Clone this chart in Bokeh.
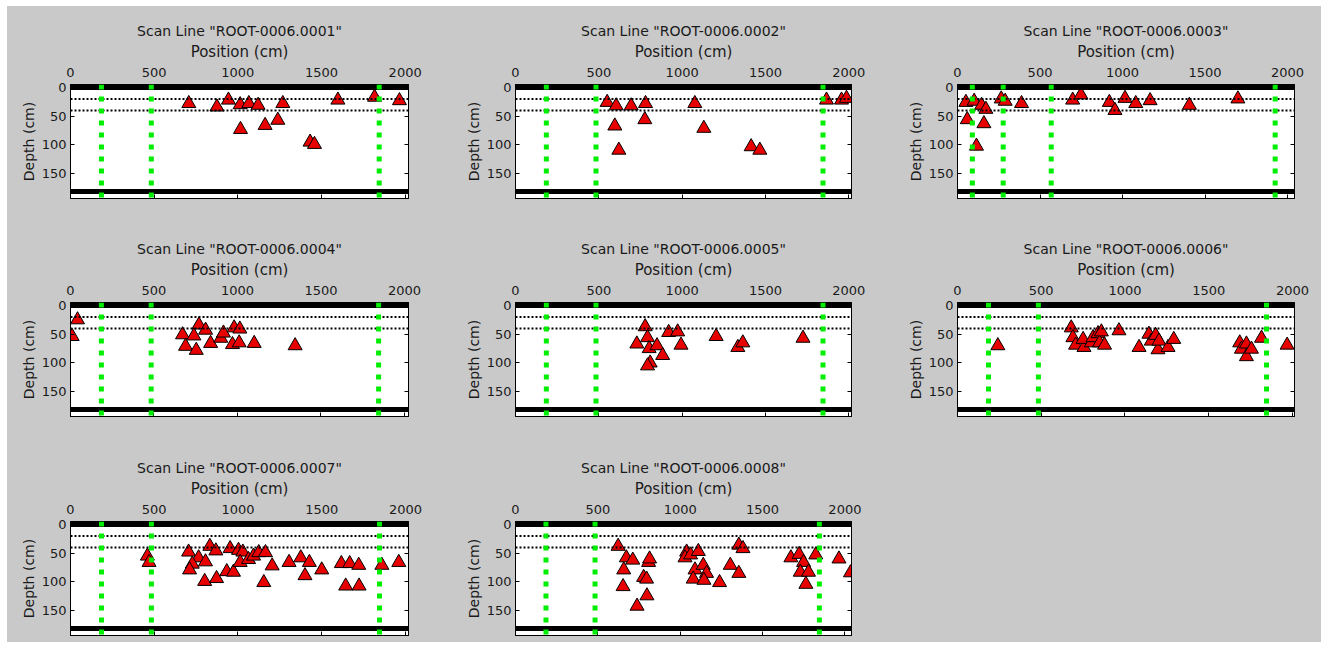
from bokeh.plotting import figure
from bokeh.models import Range1d, LinearAxis, FixedTicker, Span, Spacer
from bokeh.layouts import row, column
from bokeh.embed import file_html
from bokeh.resources import INLINE

# ---------------- data ----------------
scan_names = ["ROOT-0006.0001", "ROOT-0006.0002", "ROOT-0006.0003", "ROOT-0006.0004",
              "ROOT-0006.0005", "ROOT-0006.0006", "ROOT-0006.0007", "ROOT-0006.0008"]
x_max = [2020, 2016, 2042, 2024, 2016, 2012, 2018, 2040]
x_ticks = [0, 500, 1000, 1500, 2000]
y_ticks = [0, 50, 100, 150]
boundary_depths = [0, 181]
layer_depths = [20, 40]

green_lines = [
    [185, 483, 1845],
    [185, 483, 1845],
    [90, 277, 568, 1925],
    [185, 483, 1845],
    [185, 483, 1845],
    [185, 483, 1845],
    [185, 483, 1845],
    [185, 483, 1845],
]

pos1 = [707, 875, 944, 1014, 1066, 1121, 1016, 1163, 1239, 1269, 1432, 1458, 1598, 1817, 1966]
dep1 = [28, 34, 22, 30, 28, 31, 73, 66, 57, 28, 95, 99, 22, 17, 23]

pos2 = [550, 604, 694, 780, 776, 596, 620, 1076, 1130, 1414, 1466, 1866, 1956, 1986]
dep2 = [26, 32, 32, 28, 56, 67, 109, 28, 71, 103, 109, 22, 22, 19]

pos3 = [51, 101, 146, 172, 59, 160, 115, 265, 289, 388, 698, 748, 920, 954, 1015, 1080, 1167, 1405, 1699]
dep3 = [26, 24, 31, 38, 56, 63, 102, 20, 24, 28, 22, 13, 26, 40, 19, 28, 23, 31, 20]

pos4 = [42, 10, 671, 769, 809, 739, 689, 753, 839, 900, 916, 970, 1010, 980, 1014, 1100, 1345]
dep4 = [25, 54, 51, 34, 43, 53, 71, 78, 66, 57, 48, 68, 65, 39, 41, 66, 70]

pos5 = [778, 792, 728, 802, 849, 883, 808, 792, 919, 973, 993, 1204, 1334, 1364, 1725]
dep5 = [37, 56, 67, 75, 70, 87, 100, 105, 47, 46, 69, 54, 73, 65, 57]

pos6 = [241, 679, 689, 705, 755, 750, 799, 809, 839, 848, 859, 878, 964, 1084, 1143, 1157, 1183,
        1197, 1203, 1257, 1291, 1685, 1695, 1725, 1725, 1755, 1815, 1968]
dep6 = [70, 39, 56, 69, 73, 59, 65, 56, 49, 65, 46, 69, 44, 73, 50, 62, 52,
        77, 62, 73, 59, 65, 76, 67, 89, 76, 57, 69]

pos7 = [459, 469, 705, 765, 727, 711, 806, 801, 832, 868, 872, 933, 953, 973, 1003, 1029, 1013,
        1063, 1093, 1124, 1164, 1154, 1204, 1305, 1375, 1426, 1400, 1500, 1617, 1667, 1721, 1643,
        1723, 1859, 1960]
dep7 = [55, 66, 48, 58, 69, 79, 65, 99, 38, 46, 94, 82, 42, 83, 45, 48, 66,
        61, 55, 49, 49, 101, 72, 66, 58, 66, 89, 79, 68, 68, 71, 107,
        107, 71, 66]

pos8 = [623, 673, 712, 657, 653, 738, 798, 778, 808, 814, 796, 1039, 1029, 1063, 1110, 1090, 1140,
        1160, 1079, 1144, 1239, 1304, 1356, 1381, 1356, 1672, 1722, 1749, 1729, 1779, 1763, 1823,
        1964, 2034]
dep8 = [38, 58, 62, 79, 108, 142, 124, 92, 66, 60, 95, 48, 58, 53, 47, 79, 71,
        85, 95, 97, 101, 71, 36, 42, 85, 58, 52, 66, 83, 83, 104, 53,
        60, 84]

positions = [pos1, pos2, pos3, pos4, pos5, pos6, pos7, pos8]
depths = [dep1, dep2, dep3, dep4, dep5, dep6, dep7, dep8]

# ---------------- style / layout ----------------
GRAY = "#c9c9c9"
TXT = "#1a1a1a"
FONT = "DejaVu Sans"
CELL_W = 438
CELL_H = 212
col_left = [63, 70, 74]
frame_w = [338, 336, 337]
row_top = [78, 84, 91]
FRAME_H = 114


def style_axis(ax, labels=True):
    ax.major_tick_in = 4
    ax.major_tick_out = 0
    ax.minor_tick_line_color = None
    ax.axis_line_color = "black"
    ax.major_tick_line_color = "black"
    ax.major_label_text_font = FONT
    ax.major_label_text_color = TXT
    ax.axis_label_text_font = FONT
    ax.axis_label_text_color = TXT
    ax.axis_label_text_font_style = "normal"
    if labels:
        ax.major_label_text_font_size = "13px"
        ax.axis_label_text_font_size = "15px"
    else:
        ax.major_label_text_font_size = "1px"
        ax.major_label_text_color = None
        ax.major_label_standoff = 0


def make_panel(i):
    r, c = divmod(i, 3)
    p = figure(frame_width=frame_w[c], frame_height=FRAME_H,
               x_range=Range1d(0, x_max[i]), y_range=Range1d(193, -5),
               x_axis_location="above", output_backend="svg", toolbar_location=None,
               title='Scan Line "%s"' % scan_names[i],
               min_border_left=col_left[c],
               min_border_right=CELL_W - col_left[c] - frame_w[c],
               min_border_top=row_top[r],
               min_border_bottom=CELL_H - row_top[r] - FRAME_H)
    p.border_fill_color = GRAY
    p.background_fill_color = "white"
    p.outline_line_color = "black"
    p.outline_line_width = 1
    p.grid.visible = False
    p.title.align = "center"
    p.title.text_font = FONT
    p.title.text_font_size = "14px"
    p.title.text_font_style = "normal"
    p.title.text_color = TXT
    p.title.standoff = 2

    p.xaxis.ticker = FixedTicker(ticks=x_ticks)
    p.yaxis.ticker = FixedTicker(ticks=y_ticks)
    p.xaxis.axis_label = "Position (cm)"
    p.yaxis.axis_label = "Depth (cm)"
    for ax in p.xaxis + p.yaxis:
        style_axis(ax)
    p.yaxis.axis_label_text_font_size = "14px"
    p.xaxis.major_label_standoff = 8
    p.xaxis.axis_label_standoff = 4
    p.yaxis.major_label_standoff = 4
    p.yaxis.axis_label_standoff = 2

    bx = LinearAxis(ticker=FixedTicker(ticks=x_ticks))
    style_axis(bx, labels=False)
    p.add_layout(bx, "below")
    ry = LinearAxis(ticker=FixedTicker(ticks=y_ticks))
    style_axis(ry, labels=False)
    p.add_layout(ry, "right")

    for d in boundary_depths:
        p.add_layout(Span(location=d, dimension="width", line_color="black", line_width=5))
    for d in layer_depths:
        p.add_layout(Span(location=d, dimension="width", line_color="black",
                          line_width=2, line_dash="2 2"))
    for g in green_lines[i]:
        p.add_layout(Span(location=g, dimension="height", line_color="#00ee00",
                          line_width=5, line_dash="5 7"))

    p.scatter(positions[i], depths[i], marker="triangle", size=14,
              fill_color="#e80000", line_color="black", line_width=1)
    return p


panels = [make_panel(i) for i in range(8)]
filler = Spacer(width=CELL_W, height=CELL_H, styles={"background-color": GRAY})

layout = column(
    row(panels[0], panels[1], panels[2], styles={"background-color": GRAY}),
    row(panels[3], panels[4], panels[5], styles={"background-color": GRAY}),
    row(panels[6], panels[7], filler, styles={"background-color": GRAY}),
    styles={"background-color": GRAY, "margin-left": "7px", "margin-top": "6px"},
)

open("out.html", "w").write(file_html(layout, INLINE))
